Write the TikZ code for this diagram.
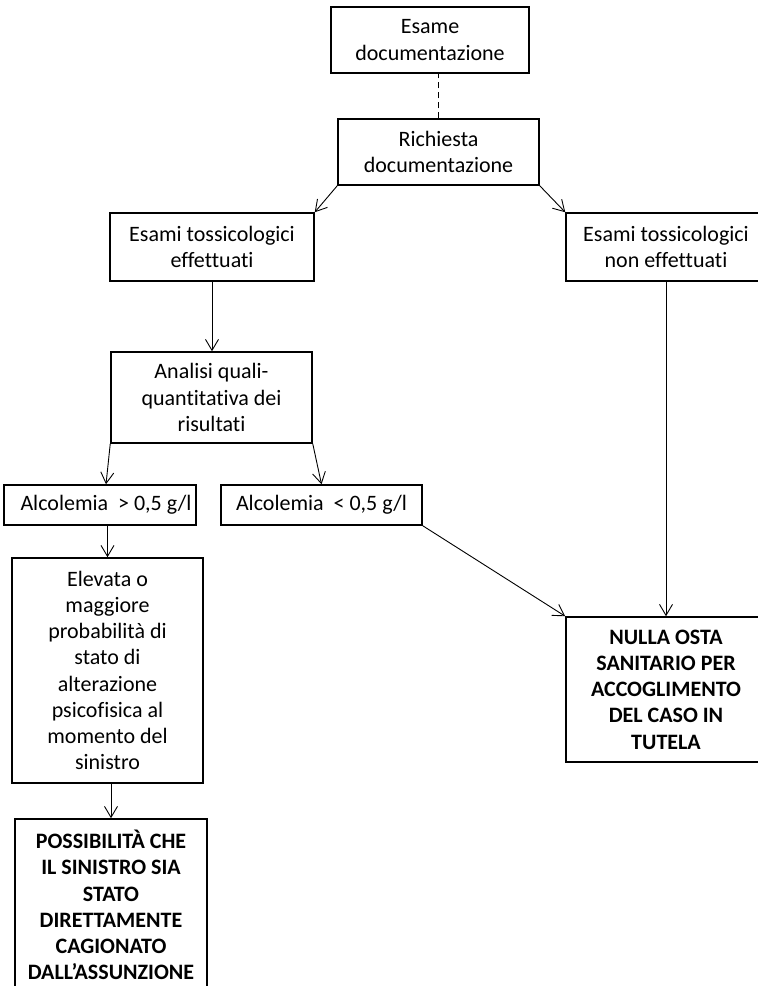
\documentclass[tikz,border=0pt]{standalone}
\usepackage{fontspec}
\setmainfont{Carlito}[Ligatures=NoCommon]
\usetikzlibrary{arrows.meta,calc}
\newcommand{\diagfont}{\fontsize{22}{26.2}\selectfont}
\tikzset{
  box/.style={draw, line width=1.5pt, align=center, inner sep=0pt, font=\diagfont},
  conn/.style={line width=0.9pt, -{Straight Barb[length=11pt,width=13pt,line width=0.9pt]}},
  dashconn/.style={line width=1.3pt, dash pattern=on 6pt off 4pt}
}
\begin{document}
\begin{tikzpicture}[x=1pt,y=-1pt]
\useasboundingbox (0,0) rectangle (758,986);
\fill[white] (0,0) rectangle (758,986);
\clip (0,0) rectangle (758,986);

\node[box, minimum width=198pt, minimum height=66pt] (esame) at (430,40) {Esame\\documentazione};
\node[box, minimum width=201pt, minimum height=66pt] (richiesta) at (438.5,152) {Richiesta\\documentazione};
\node[box, minimum width=204pt, minimum height=68pt] (effett) at (212,247) {Esami tossicologici\\effettuati};
\node[box, minimum width=200pt, minimum height=68pt] (noneff) at (666,247) {Esami tossicologici\\non effettuati};
\node[box, minimum width=201pt, minimum height=91pt] (analisi) at (211.5,397.5) {Analisi quali-\\quantitativa dei\\risultati};
\node[box, minimum width=192pt, minimum height=40pt] (alcmag) at (100,505) {\hspace*{12pt}Alcolemia~~> 0,5 g/l};
\node[box, minimum width=201pt, minimum height=40pt] (alcmin) at (321.5,505) {Alcolemia~~< 0,5 g/l};
\node[box, minimum width=191pt, minimum height=225pt] (elevata) at (107.5,670.5) {Elevata o\\maggiore\\probabilità di\\stato di\\alterazione\\psicofisica al\\momento del\\sinistro};
\node[box, minimum width=192pt, minimum height=172pt, font=\diagfont\bfseries] (possib) at (111,905) {POSSIBILITÀ CHE\\IL SINISTRO SIA\\STATO\\DIRETTAMENTE\\CAGIONATO\\DALL’ASSUNZIONE};
\node[box, minimum width=200pt, minimum height=145pt, font=\diagfont\bfseries] (nulla) at (666,689.5) {NULLA OSTA\\SANITARIO PER\\ACCOGLIMENTO\\DEL CASO IN\\TUTELA};

\draw[dashconn] (richiesta.north) -- (richiesta.north |- esame.south);
\draw[conn] (richiesta.south west) -- (effett.north east);
\draw[conn] (richiesta.south east) -- (noneff.north west);
\draw[conn] (effett.south) -- (effett.south |- analisi.north);
\draw[conn] (analisi.south west) -- ([xshift=6pt]alcmag.north);
\draw[conn] (analisi.south east) -- (alcmin.north);
\draw[conn] (elevata.north |- alcmag.south) -- (elevata.north);
\draw[conn] (possib.north |- elevata.south) -- (possib.north);
\draw[conn] (alcmin.south east) -- (nulla.north west);
\draw[conn] (noneff.south) -- (nulla.north);
\end{tikzpicture}
\end{document}
